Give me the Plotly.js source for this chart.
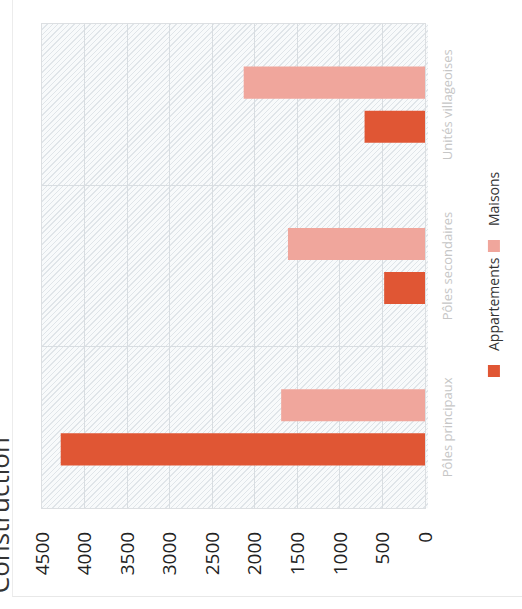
<!DOCTYPE html>
<html>
<head>
<meta charset="utf-8">
<script src="https://cdn.plot.ly/plotly-3.0.1.min.js"></script>
<style>
  html, body { margin: 0; padding: 0; background: #ffffff; overflow: hidden; }
  body { width: 522px; height: 609px; position: relative; }
  #wrap {
    position: absolute; left: 0; top: 0;
    width: 609px; height: 522px;
    transform-origin: 0 0;
    transform: translate(0px, 609px) rotate(-90deg);
  }
  #frame {
    position: absolute; left: 12px; top: 12px; width: 620px; height: 520px;
    border-left: 1px solid #e8e8e8; border-top: 1px solid #ececec;
  }
  #hatch {
    position: absolute; left: 101px; top: 42px; width: 484px; height: 386px;
    background: repeating-linear-gradient(45deg, #f8fafb 0px, #f8fafb 2.8px, #e0e5e9 2.8px, #e0e5e9 3.8px);
  }
  #chart { position: absolute; left: 0; top: 0; width: 609px; height: 522px; }
</style>
</head>
<body>
<div id="wrap">
  <div id="frame"></div>
  <div id="hatch"></div>
  <div id="chart"></div>
</div>
<script>
  const categories = ['Pôles principaux', 'Pôles secondaires', 'Unités villageoises'];
  const appartements = [4280, 480, 710];
  const maisons = [1690, 1610, 2130];
  const seriesNames = ['Appartements', 'Maisons'];
  const chartTitle = 'Construction';

  const traces = [
    { type: 'bar', name: seriesNames[0], x: categories, y: appartements,
      marker: { color: '#e05634', line: { width: 0 } }, hoverinfo: 'x+y' },
    { type: 'bar', name: seriesNames[1], x: categories, y: maisons,
      marker: { color: '#f0a69c', line: { width: 0 } }, hoverinfo: 'x+y' }
  ];

  const layout = {
    width: 609, height: 522,
    margin: { l: 101, r: 24, t: 42, b: 94, pad: 0 },
    paper_bgcolor: 'rgba(0,0,0,0)',
    plot_bgcolor: 'rgba(0,0,0,0)',
    barmode: 'group',
    bargap: 0.453,
    bargroupgap: 0.273,
    title: {
      text: chartTitle,
      font: { family: 'Open Sans, sans-serif', size: 26, color: '#333333' },
      xref: 'container', x: 0.026, xanchor: 'left',
      yref: 'container', y: 1, yanchor: 'middle'
    },
    xaxis: {
      type: 'category',
      tickson: 'boundaries',
      showgrid: true, gridcolor: '#d8dde1', gridwidth: 1,
      showline: true, mirror: true, linecolor: '#dcdfe2', linewidth: 1,
      ticks: '',
      ticklabelstandoff: 10,
      tickfont: { family: 'Open Sans, sans-serif', size: 13, color: '#c6c6c6' },
      zeroline: false
    },
    yaxis: {
      range: [0, 4500], dtick: 500, tick0: 0,
      showgrid: true, gridcolor: '#d8dde1', gridwidth: 1,
      showline: true, mirror: true, linecolor: '#dcdfe2', linewidth: 1,
      zeroline: false,
      ticks: '',
      ticklabelstandoff: 19,
      tickfont: { family: 'Open Sans, sans-serif', size: 19, color: '#222222' }
    },
    showlegend: true,
    legend: {
      orientation: 'h',
      x: 0.5, xanchor: 'center',
      y: -0.181, yanchor: 'middle',
      itemwidth: 30,
      entrywidth: 80,
      entrywidthmode: 'pixels',
      font: { family: 'Open Sans, sans-serif', size: 14, color: '#333333' },
      bgcolor: 'rgba(0,0,0,0)'
    }
  };

  Plotly.newPlot('chart', traces, layout, { staticPlot: true, displayModeBar: false });
</script>
</body>
</html>
